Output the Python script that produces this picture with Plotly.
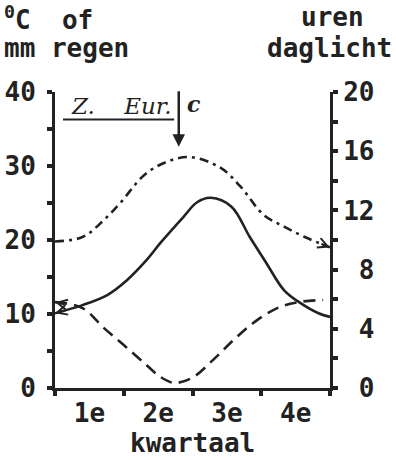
import plotly.graph_objects as go

# ---- data ----
quarter_labels = ["1e", "2e", "3e", "4e"]
quarter_centres = [1.5, 4.5, 7.5, 10.5]
quarter_bounds = [0, 3, 6, 9, 12]

# month positions (0..12) and values
daylight_months = [0, 1.2, 2.1, 2.9, 3.9, 4.9, 5.9, 7.2, 8.1, 9.1, 10.0, 10.9, 12]
daylight_hours = [9.9, 10.2, 11.3, 12.6, 14.4, 15.3, 15.6, 14.9, 13.6, 11.7, 10.9, 10.2, 9.5]

temp_months = [0, 1.2, 2.3, 3.15, 4.0, 4.6, 5.6, 6.2, 6.8, 7.7, 8.5, 9.2, 10.0, 10.7, 11.5, 12]
temp_c = [10.1, 11.2, 12.6, 14.6, 17.3, 19.6, 23.1, 25.1, 25.7, 24.5, 20.4, 17.0, 13.2, 11.5, 10.1, 9.6]

rain_months = [0, 1.2, 2.1, 3.0, 3.85, 4.6, 5.2, 6.0, 6.9, 7.8, 8.7, 9.7, 10.6, 11.7]
rain_mm = [11.6, 10.8, 8.2, 5.8, 3.5, 1.5, 0.7, 1.4, 3.8, 6.5, 8.9, 10.8, 11.6, 11.9]

left_ticks = [0, 10, 20, 30, 40]
left_minor = [5, 15, 25, 35]
right_ticks = [0, 4, 8, 12, 16, 20]
right_minor = [2, 6, 10, 14, 18]

INK = "#222222"
FONT = "DejaVu Sans Mono"

# plot-area geometry (pixels)
L, R, T, B = 55, 330, 92, 388


def px(x):
    return (x - L) / (R - L)


def py(y):
    return (B - y) / (B - T)


fig = go.Figure()
fig.add_trace(go.Scatter(x=daylight_months, y=daylight_hours, yaxis="y2", mode="lines",
                         line=dict(color=INK, width=2.6, dash="9px,5px,3px,5px", shape="spline"),
                         showlegend=False))
fig.add_trace(go.Scatter(x=temp_months, y=temp_c, mode="lines",
                         line=dict(color=INK, width=2.6, shape="spline"), showlegend=False))
fig.add_trace(go.Scatter(x=rain_months, y=rain_mm, mode="lines",
                         line=dict(color=INK, width=2.6, dash="12px,7px", shape="spline"),
                         showlegend=False))


def end_arrow(xs, ys, idx, nxt, yref):
    hx, hy = xs[idx], ys[idx]
    tx = hx + 0.4 * (xs[nxt] - hx)
    ty = hy + 0.4 * (ys[nxt] - hy)
    return dict(x=hx, y=hy, ax=tx, ay=ty, xref="x", yref=yref, axref="x", ayref=yref,
                showarrow=True, arrowhead=5, arrowsize=0.9, arrowwidth=2.2,
                arrowcolor=INK, text="")


def label(text, x, y, anchor="center", size=26, family=FONT):
    return dict(x=px(x), y=py(y), xref="paper", yref="paper", xanchor=anchor, yanchor="middle",
                text=text, showarrow=False, font=dict(family=family, size=size, color=INK))


annotations = [
    end_arrow(temp_months, temp_c, 0, 1, "y"),
    end_arrow(rain_months, rain_mm, 0, 1, "y"),
    end_arrow(daylight_months, daylight_hours, -1, -2, "y2"),
    # down arrow with "c"
    dict(x=5.4, y=32.6, ax=5.4, ay=40.3, xref="x", yref="y", axref="x", ayref="y",
         showarrow=True, arrowhead=2, arrowsize=1.0, arrowwidth=2.5, arrowcolor=INK, text=""),
    dict(x=6.05, y=38.4, xref="x", yref="y", text="<b><i>c</i></b>", showarrow=False,
         font=dict(family="DejaVu Serif", size=22, color=INK)),
    dict(x=5.2, y=38.1, xref="x", yref="y", xanchor="right",
         text="<i>Z.\u00a0\u00a0\u00a0\u00a0Eur.</i>",
         showarrow=False, font=dict(family="DejaVu Serif", size=23, color=INK)),
    # axis titles
    label("<b><sup>0</sup>C\u00a0\u00a0of</b>", 2, 18, "left"),
    label("<b>mm regen</b>", 2, 48, "left"),
    label("<b>uren</b>", 332, 17),
    label("<b>daglicht</b>", 329, 48),
    label("<b>kwartaal</b>", 192, 443),
]

shapes = [
    dict(type="line", xref="x", yref="y", x0=0.35, x1=5.2, y0=36.3, y1=36.3,
         line=dict(color=INK, width=2)),
]

fig.update_layout(
    width=396, height=460,
    margin=dict(l=L, r=396 - R, t=T, b=460 - B, autoexpand=False),
    paper_bgcolor="white", plot_bgcolor="white",
    annotations=annotations, shapes=shapes,
    font=dict(family=FONT, size=26, color=INK),
    xaxis=dict(range=[0, 12], showgrid=False, zeroline=False, showline=True, linewidth=3,
               linecolor=INK, tickmode="array", tickvals=quarter_centres, ticktext=quarter_labels,
               ticks="", ticklabelstandoff=0, automargin=False,
               tickfont=dict(family=FONT, size=26, color=INK, weight="bold"),
               minor=dict(tickmode="array", tickvals=quarter_bounds, ticks="outside", ticklen=5,
                          tickwidth=4, tickcolor=INK, showgrid=False)),
    yaxis=dict(range=[0, 40], showgrid=False, zeroline=False, showline=True, linewidth=3,
               linecolor=INK, tickmode="array", tickvals=left_ticks, automargin=False,
               ticktext=[str(v) for v in left_ticks], ticks="outside", ticklen=5, tickwidth=4,
               tickcolor=INK, ticklabelstandoff=6,
               tickfont=dict(family=FONT, size=26, color=INK, weight="bold"),
               minor=dict(tickmode="array", tickvals=left_minor, ticks="outside", ticklen=5,
                          tickwidth=4, tickcolor=INK, showgrid=False)),
    yaxis2=dict(range=[0, 20], overlaying="y", side="right", showgrid=False, zeroline=False,
                showline=True, linewidth=3, linecolor=INK, tickmode="array", tickvals=right_ticks,
                ticktext=[("\u00a0" + str(v)) if v < 10 else str(v) for v in right_ticks],
                ticks="outside", ticklen=5, tickwidth=4, tickcolor=INK, ticklabelstandoff=0,
                automargin=False,
                tickfont=dict(family=FONT, size=26, color=INK, weight="bold"),
                minor=dict(tickmode="array", tickvals=right_minor, ticks="outside", ticklen=5,
                           tickwidth=4, tickcolor=INK, showgrid=False)),
)

fig.write_html("out.html")
